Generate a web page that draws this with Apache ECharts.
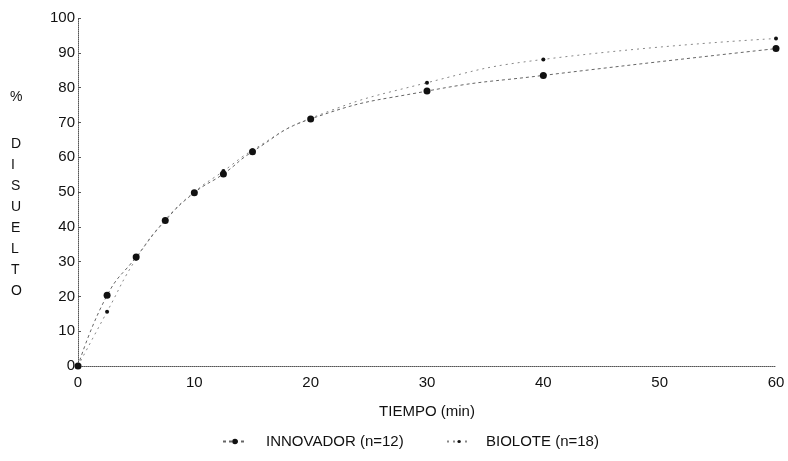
<!DOCTYPE html>
<html>
<head>
<meta charset="utf-8">
<script src="https://cdn.jsdelivr.net/npm/echarts@6/dist/echarts.min.js"></script>
<style>
  html, body { margin: 0; padding: 0; background: #fff; }
  #chart { width: 788px; height: 461px; }
</style>
</head>
<body>
<div id="chart"></div>
<script>
// tiempos de muestreo (min) y % disuelto
const tiempos = [0, 2.5, 5, 7.5, 10, 12.5, 15, 20, 30, 40, 60];
const innovador = [0, 20.3, 31.3, 41.8, 49.8, 55.2, 61.6, 71, 79, 83.5, 91.2];
const biolote = [0, 15.6, 30.8, 42, 50, 56, 62, 71.2, 81.4, 88.1, 94.1];
const yTicks = [0, 10, 20, 30, 40, 50, 60, 70, 80, 90, 100];

const font = 'Liberation Sans, Arial, sans-serif';
const pares = (ys) => tiempos.map((t, i) => [t, ys[i]]);

const chart = echarts.init(document.getElementById('chart'));
chart.setOption({
  animation: false,
  grid: { left: 78, right: 12, top: 18, bottom: 95 },
  xAxis: {
    type: 'value', min: 0, max: 60, interval: 10,
    name: 'TIEMPO (min)', nameLocation: 'middle', nameGap: 38,
    nameTextStyle: { fontFamily: font, fontSize: 15, color: '#111' },
    axisLine: { lineStyle: { color: '#555', type: 'dotted', width: 1 } },
    axisTick: { show: false },
    axisLabel: { fontFamily: font, fontSize: 15, color: '#111', margin: 9 },
    splitLine: { show: false }
  },
  yAxis: {
    type: 'value', min: 0, max: 100, interval: 10,
    axisLine: { show: true, lineStyle: { color: '#555', type: 'dotted', width: 1 } },
    axisTick: { show: true, inside: true, length: 3, lineStyle: { color: '#555' } },
    axisLabel: {
      fontFamily: font, fontSize: 15, color: '#111', margin: 3,
      formatter: (v) => yTicks.includes(v) ? String(v) : ''
    },
    splitLine: { show: false }
  },
  legend: [
    {
      left: 222, bottom: 12, padding: 0, itemWidth: 24, itemHeight: 7,
      textStyle: { fontFamily: font, fontSize: 15, color: '#111', padding: [0, 0, 0, 14] },
      data: ['INNOVADOR (n=12)']
    },
    {
      left: 446, bottom: 12, padding: 0, itemWidth: 24, itemHeight: 4,
      textStyle: { fontFamily: font, fontSize: 15, color: '#111', padding: [0, 0, 0, 10] },
      data: ['BIOLOTE (n=18)']
    }
  ],
  graphic: [
    { type: 'text', left: 10, top: 90,
      style: { text: '%', font: '14px ' + font, fill: '#111' } },
    { type: 'text', left: 11, top: 134,
      style: { text: 'D\nI\nS\nU\nE\nL\nT\nO', font: '14px ' + font, fill: '#111',
               lineHeight: 21, align: 'center', x: 4 } }
  ],
  series: [
    {
      name: 'INNOVADOR (n=12)', type: 'line', smooth: true,
      data: pares(innovador),
      symbol: 'circle', symbolSize: 7,
      itemStyle: { color: '#111' },
      lineStyle: { color: '#666', type: [3, 3], width: 1 }
    },
    {
      name: 'BIOLOTE (n=18)', type: 'line', smooth: true,
      data: pares(biolote),
      symbol: 'circle', symbolSize: 4,
      itemStyle: { color: '#111' },
      lineStyle: { color: '#888', type: [2, 4], width: 1 }
    }
  ]
});
</script>
</body>
</html>
